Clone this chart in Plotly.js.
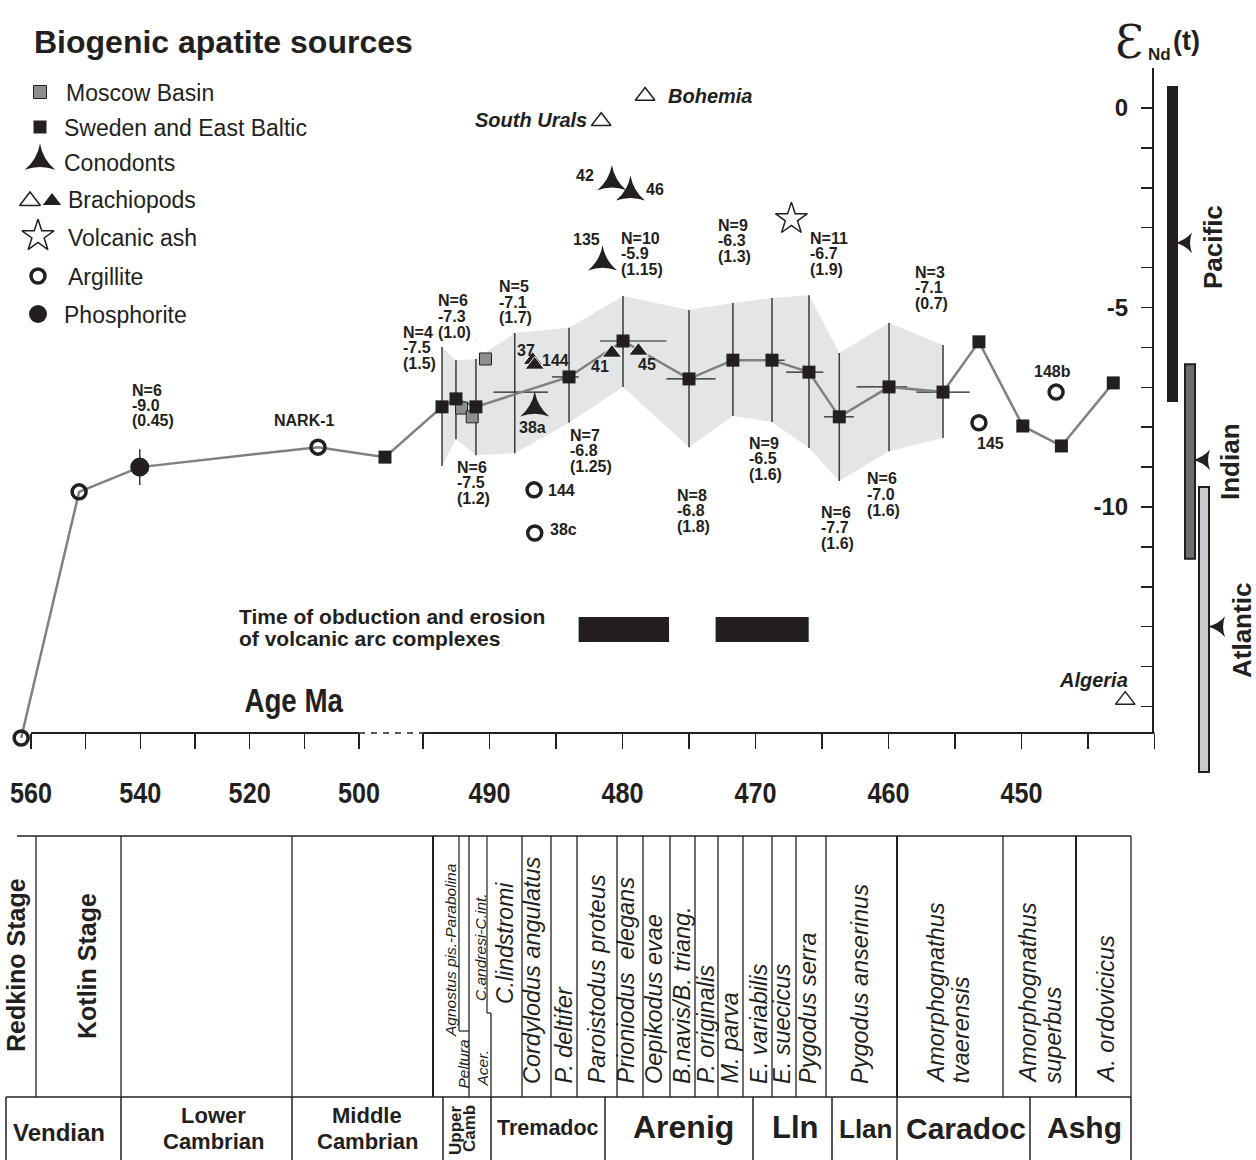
<!DOCTYPE html>
<html><head><meta charset="utf-8">
<script src="https://cdn.plot.ly/plotly-3.0.1.min.js"></script>
<style>html,body{margin:0;padding:0;background:#fff}#chart{width:1256px;height:1160px}</style>
</head><body><div id="chart"></div>
<script>
// ================= DATA =================
// Sweden and East Baltic (black squares)
const swedenAge = [497.97, 493.57, 492.52, 491.02, 484.02, 479.96, 475.0, 471.7, 468.76, 465.98, 463.7, 459.96, 455.9, 453.2, 449.9, 447.0, 443.1];
const swedenEps = [-8.75, -7.49, -7.29, -7.49, -6.74, -5.84, -6.79, -6.32, -6.32, -6.62, -7.74, -6.99, -7.12, -5.86, -7.97, -8.47, -6.89];
// Moscow Basin (grey squares)
const moscowAge = [490.3, 492.1, 491.3];
const moscowEps = [-6.29, -7.52, -7.74];
// Conodonts
const conoAge = [480.8, 479.4, 481.5, 486.6];
const conoEps = [-1.85, -2.11, -3.86, -7.52];
const conoLabel = ['42', '46', '135', '38a'];
// Brachiopods, filled
const brachAge = [486.75, 486.6, 480.8, 478.8];
const brachEps = [-6.32, -6.44, -6.14, -6.09];
const brachLabel = ['37', '144', '41', '45'];
// Brachiopods, open
const brachOpenAge = [481.6, 478.3, 442.2];
const brachOpenEps = [-0.33, 0.30, -14.84];
const brachOpenName = ['South Urals', 'Bohemia', 'Algeria'];
// Volcanic ash
const ashAge = [467.3];
const ashEps = [-2.78];
// Argillite
const argAge = [561.8, 551.2, 507.5, 486.65, 486.6, 453.2, 447.4];
const argEps = [-15.79, -9.62, -8.50, -9.57, -10.65, -7.89, -7.12];
const argLabel = ['', '', 'NARK-1', '144', '38c', '145', '148b'];
// Phosphorite
const phosAge = [540.1];
const phosEps = [-9.0];
const phosHi = [-8.55];
const phosLo = [-9.45];
const phosN = ['6'], phosMean = ['-9.0'], phosSD = ['0.45'];
// Group statistics (Sweden & East Baltic)
const groupAge = [493.57, 492.52, 491.02, 488.1, 484.02, 479.96, 475.0, 471.7, 468.76, 465.98, 463.7, 459.96, 455.9];
const groupEps = [-7.49, -7.29, -7.49, -7.12, -6.74, -5.84, -6.79, -6.32, -6.32, -6.62, -7.74, -6.99, -7.12];
const groupHi = [-5.99, -6.32, -6.29, -5.64, -5.51, -4.71, -5.06, -4.89, -4.76, -4.69, -6.14, -5.39, -5.94];
const groupLo = [-8.97, -8.30, -8.70, -8.65, -7.89, -6.99, -8.50, -7.72, -7.87, -8.52, -9.35, -8.60, -8.27];
const groupAgeOld = [null, null, null, 489.7, 485.3, 481.7, 476.7, null, 469.9, 467.7, 464.85, 462.4, 457.9];
const groupAgeYoung = [null, null, null, 485.6, 483.3, 476.7, 473.0, null, 467.8, 464.9, 462.6, 458.6, 453.9];
const groupN = ['4', '6', '6', '5', '7', '10', '8', '9', '9', '11', '6', '6', '3'];
const groupMean = ['-7.5', '-7.3', '-7.5', '-7.1', '-6.8', '-5.9', '-6.8', '-6.3', '-6.5', '-6.7', '-7.7', '-7.0', '-7.1'];
const groupSD = ['1.5', '1.0', '1.2', '1.7', '1.25', '1.15', '1.8', '1.3', '1.6', '1.9', '1.6', '1.6', '0.7'];
// Modern oceans
const oceanName = ['Pacific', 'Indian', 'Atlantic'];
const oceanTop = [0.55, -6.42, -9.50];
const oceanBottom = [-7.37, -11.30, -16.64];
const oceanMean = [-3.38, -8.82, -13.0];
const oceanColor = ['#231f20', '#6d6e71', '#c8c9cc'];
// Obduction intervals (Ma)
const obdOld = [483.3, 473.0];
const obdYoung = [476.5, 466.0];
// Axis ticks
const xTickAges = [560, 550, 540, 530, 520, 510, 500, 495, 490, 485, 480, 475, 470, 465, 460, 455, 450, 445, 440];
const xLabelAges = [560, 540, 520, 500, 490, 480, 470, 460, 450];
const yTickVals = [-15, -14, -13, -12, -11, -10, -9, -8, -7, -6, -5, -4, -3, -2, -1, 0];
const yLabelVals = [0, -5, -10];
// Stratigraphic table text
const stageTop = [['Redkino Stage', true], ['Kotlin Stage', true], ['Agnostus pis.-Parabolina', false], ['Peltura', false], ['C.andresi-C.int.', false], ['Acer.', false],
  ['C.lindstromi', false], ['Cordylodus angulatus', false], ['P. deltifer', false], ['Paroistodus proteus', false], ['Prioniodus  elegans', false], ['Oepikodus evae', false],
  ['B.navis/B. triang.', false], ['P. originalis', false], ['M. parva', false], ['E. variabilis', false], ['E. suecicus', false], ['Pygodus serra', false],
  ['Pygodus anserinus', false], ['Amorphognathus', false], ['tvaerensis', false], ['Amorphognathus', false], ['superbus', false], ['A. ordovicicus', false]];
const seriesNames = ['Vendian', 'Lower', 'Cambrian', 'Middle', 'Cambrian', 'Upper', 'Camb', 'Tremadoc', 'Arenig', 'Lln', 'Llan', 'Caradoc', 'Ashg'];

// ================= LAYOUT HELPERS =================
const W = 1256, H = 1160;
const INK = '#231f20';
const FONT = 'Liberation Sans, Arial, Helvetica, sans-serif';
const Y0PX = 108, UNIT = 39.9;                 // eps=0 at 108 px, 39.9 px per unit
const epsAt = y => -(y - Y0PX) / UNIT;
const YTOP = 40, YBOT = 800;
function pos(age) {                           // broken time axis
  if (age >= 500) return 359 - (age - 500) * 5.467;
  if (age >= 495) return 359 + (500 - age) * 12.8;
  return 423 + (495 - age) * 13.3;
}
const px = x => x / W, py = y => 1 - y / H;
function txt(x, y, text, size, o) {
  return Object.assign({ xref: 'paper', yref: 'paper', x: px(x), y: py(y), text: text, showarrow: false,
    font: { family: FONT, size: size, color: INK }, xanchor: 'center', yanchor: 'middle', borderpad: 0 }, o || {});
}
function seg(x0, y0, x1, y1, w, o) {
  return Object.assign({ type: 'line', xref: 'paper', yref: 'paper', x0: px(x0), y0: py(y0), x1: px(x1), y1: py(y1),
    line: { color: INK, width: w || 1.3 } }, o || {});
}

// ================= TRACES =================
const traces = [];
const P = a => a.map(pos);
// band
traces.push({ x: P(groupAge).concat(P(groupAge).reverse()), y: groupHi.concat(groupLo.slice().reverse()),
  mode: 'lines', fill: 'toself', fillcolor: '#e4e5e7', line: { width: 0 }, hoverinfo: 'skip' });
// vertical error bars
let vx = [], vy = [];
groupAge.forEach((a, i) => { vx.push(pos(a), pos(a), null); vy.push(groupHi[i], groupLo[i], null); });
phosAge.forEach((a, i) => { vx.push(pos(a), pos(a), null); vy.push(phosHi[i], phosLo[i], null); });
traces.push({ x: vx, y: vy, mode: 'lines', line: { color: '#3a3a3a', width: 1.5 }, hoverinfo: 'skip' });
// horizontal error bars
let hx = [], hy = [];
groupAge.forEach((a, i) => { if (groupAgeOld[i] !== null) { hx.push(pos(groupAgeOld[i]), pos(groupAgeYoung[i]), null); hy.push(groupEps[i], groupEps[i], null); } });
traces.push({ x: hx, y: hy, mode: 'lines', line: { color: INK, width: 1.2 }, hoverinfo: 'skip' });
// trend line
let trend = [];
argAge.forEach((a, i) => { if (a > 500) trend.push([a, argEps[i]]); });
phosAge.forEach((a, i) => trend.push([a, phosEps[i]]));
swedenAge.forEach((a, i) => trend.push([a, swedenEps[i]]));
trend.sort((p, q) => q[0] - p[0]);
traces.push({ x: trend.map(t => pos(t[0])), y: trend.map(t => t[1]), mode: 'lines', line: { color: '#808080', width: 2.5 }, hoverinfo: 'skip' });
// markers
traces.push({ x: P(moscowAge), y: moscowEps, mode: 'markers', marker: { symbol: 'square', size: 12, color: '#8f8f8f', line: { color: INK, width: 1 } } });
traces.push({ x: P(swedenAge), y: swedenEps, mode: 'markers', marker: { symbol: 'square', size: 13, color: INK, line: { width: 0 } } });
traces.push({ x: P(brachAge), y: brachEps, mode: 'markers', marker: { symbol: 'triangle-up', size: 17, color: INK, line: { color: '#ffffff', width: 1 } } });
traces.push({ x: P(brachOpenAge), y: brachOpenEps, mode: 'markers', marker: { symbol: 'triangle-up-open', size: 17, color: INK, line: { color: INK, width: 1.5 } } });
traces.push({ x: P(conoAge), y: conoEps, mode: 'markers', marker: { symbol: 'star-triangle-up', size: 21, color: INK, line: { width: 0 } } });
traces.push({ x: P(ashAge), y: ashEps, mode: 'markers', marker: { symbol: 'star-open', size: 24, color: INK, line: { color: INK, width: 1.5 } } });
traces.push({ x: P(argAge), y: argEps, mode: 'markers', marker: { symbol: 'circle-open', size: 14, color: INK, line: { color: INK, width: 3.5 } }, cliponaxis: false });
traces.push({ x: P(phosAge), y: phosEps, mode: 'markers', marker: { symbol: 'circle', size: 19, color: INK } });
// ocean mean arrows (concave arrowheads pointing left)
const oceanArrowX = [1186, 1204, 1219];
traces.push({ x: oceanArrowX, y: oceanMean, mode: 'markers', marker: { symbol: 'star-triangle-up', angle: -90, size: 15, color: INK, line: { width: 0 } } });
// legend glyphs (pixel overlay axes)
const leg = [
  { x: 40, y: 92, s: 'square', z: 13, c: '#8f8f8f', lw: 1 },
  { x: 40, y: 127, s: 'square', z: 13, c: INK, lw: 0 },
  { x: 40, y: 161, s: 'star-triangle-up', z: 22, c: INK, lw: 0 },
  { x: 30, y: 201, s: 'triangle-up-open', z: 18, c: INK, lw: 1.5 },
  { x: 52, y: 201, s: 'triangle-up', z: 16, c: INK, lw: 0 },
  { x: 38, y: 236, s: 'star-open', z: 24, c: INK, lw: 1.5 },
  { x: 38, y: 276, s: 'circle-open', z: 14, c: INK, lw: 3.5 },
  { x: 38, y: 314, s: 'circle', z: 18, c: INK, lw: 0 }];
leg.forEach(g => traces.push({ x: [g.x], y: [g.y], xaxis: 'x2', yaxis: 'y2', mode: 'markers',
  marker: { symbol: g.s, size: g.z, color: g.c, line: { color: INK, width: g.lw } } }));
traces.forEach(t => { t.showlegend = false; if (!t.hoverinfo) t.hoverinfo = 'skip'; });

// ================= ANNOTATIONS =================
const ann = [];
ann.push(txt(33, 42, '<b>Biogenic apatite sources</b>', 32, { xanchor: 'left' }));
const legText = [['Moscow Basin', 65, 93], ['Sweden and East Baltic', 63, 128], ['Conodonts', 63, 163], ['Brachiopods', 67, 200],
  ['Volcanic ash', 67, 238], ['Argillite', 67, 277], ['Phosphorite', 63, 315]];
legText.forEach(l => ann.push(txt(l[1], l[2], l[0], 23, { xanchor: 'left' })));
// εNd(t)
ann.push(txt(1129, 42, 'Ɛ', 46, { font: { family: 'DejaVu Serif, serif', size: 46, color: INK } }));
ann.push(txt(1159, 54, '<b>Nd</b>', 17));
ann.push(txt(1186, 41, '<b>(t)</b>', 27));
// group labels
const groupLabelPos = [[402, 332], [437, 301], [456, 467], [498, 287], [569, 435], [620, 238], [676, 495], [717, 225], [748, 443], [809, 238], [820, 512], [866, 479], [914, 272]];
const LS = 15.5;
function stack(x, y, lines) { lines.forEach((s, k) => ann.push(txt(x, y + k * LS, '<b>' + s + '</b>', 16, { xanchor: 'left' }))); }
groupN.forEach((n, i) => stack(groupLabelPos[i][0], groupLabelPos[i][1], ['N=' + n, groupMean[i], '(' + groupSD[i] + ')']));
stack(131, 390, ['N=' + phosN[0], phosMean[0], '(' + phosSD[0] + ')']);
// point labels
const conoLabelPos = [[585, 175], [655, 190], [586, 239], [532, 427]];
conoLabel.forEach((l, i) => ann.push(txt(conoLabelPos[i][0], conoLabelPos[i][1], '<b>' + l + '</b>', 16)));
const brachLabelPos = [[526, 350], [555, 361], [600, 366], [647, 364]];
brachLabel.forEach((l, i) => ann.push(txt(brachLabelPos[i][0], brachLabelPos[i][1], '<b>' + l + '</b>', 16)));
const argLabelPos = [null, null, [304, 421], [561, 490], [563, 529], [990, 443], [1052, 372]];
argLabel.forEach((l, i) => { if (l) ann.push(txt(argLabelPos[i][0], argLabelPos[i][1], '<b>' + l + '</b>', 16)); });
ann.push(txt(588, 120, '<b><i>' + brachOpenName[0] + '</i></b>', 20, { xanchor: 'right' }));
ann.push(txt(667, 96, '<b><i>' + brachOpenName[1] + '</i></b>', 20, { xanchor: 'left' }));
ann.push(txt(1093, 680, '<b><i>' + brachOpenName[2] + '</i></b>', 20));
// obduction text
ann.push(txt(238, 616, '<b>Time of obduction and erosion</b>', 21, { xanchor: 'left' }));
ann.push(txt(238, 638, '<b>of volcanic arc complexes</b>', 21, { xanchor: 'left' }));
// Age Ma
ann.push(txt(294, 700, '<b>Age Ma</b>', 33));
// ocean names
const oceanLabelPos = [[1213, 247], [1230, 462], [1242, 631]];
oceanName.forEach((o, i) => ann.push(txt(oceanLabelPos[i][0], oceanLabelPos[i][1], '<b>' + o + '</b>', 26, { textangle: -90 })));
// table: top row (rotated)
const stageTopPos = [[16, 1053, 25], [87, 1040, 25], [450, 1038, 15.5], [463, 1090, 15.5], [480, 1002, 15.5], [482, 1088, 15.5],
  [505, 1005, 23], [532, 1085, 23.5], [563, 1085, 23.5], [596, 1085, 23.5], [625, 1085, 23.5], [654, 1085, 23.5],
  [682, 1085, 23.5], [705, 1085, 23.5], [729, 1085, 23.5], [759, 1085, 23.5], [782, 1085, 23.5], [808, 1085, 23.5],
  [860, 1085, 23.5], [935, 1085, 23.5], [960, 1085, 23.5], [1027, 1085, 23.5], [1052, 1085, 23.5], [1105, 1085, 23.5]];
stageTop.forEach((s, i) => {
  const p = stageTopPos[i];
  ann.push(txt(p[0], p[1], s[1] ? '<b>' + s[0] + '</b>' : '<i>' + s[0] + '</i>', p[2], { textangle: -90, yanchor: 'bottom' }));
});
// table: bottom row
const seriesPos = [[59, 1132, 24, 0], [213, 1115, 22, 0], [213, 1141, 22, 0], [367, 1115, 22, 0], [367, 1141, 22, 0],
  [455, 1130, 17, -90], [469, 1129, 17, -90], [548, 1128, 21.5, 0], [683, 1127, 32, 0], [795, 1127, 31, 0],
  [865, 1129, 26, 0], [966, 1128, 30, 0], [1084, 1127, 30, 0]];
seriesNames.forEach((s, i) => { const p = seriesPos[i]; ann.push(txt(p[0], p[1], '<b>' + s + '</b>', p[2], { textangle: p[3] })); });

// ================= SHAPES =================
const shapes = [];
const AXY = 733;
// x-axis line with break
shapes.push({ type: 'line', xref: 'x', yref: 'paper', x0: pos(560), x1: pos(500), y0: py(AXY), y1: py(AXY), line: { color: INK, width: 2 } });
shapes.push({ type: 'line', xref: 'x', yref: 'paper', x0: pos(500), x1: pos(495), y0: py(AXY), y1: py(AXY), line: { color: INK, width: 1.5, dash: '6px,6px' } });
shapes.push({ type: 'line', xref: 'x', yref: 'paper', x0: pos(495), x1: pos(440), y0: py(AXY), y1: py(AXY), line: { color: INK, width: 2 } });
// y-axis line
shapes.push(seg(1153, 68, 1153, AXY, 2));
// ocean bars
oceanName.forEach((o, i) => {
  const xs = [[1167, 1178], [1185, 1195], [1199, 1209]][i];
  shapes.push({ type: 'rect', xref: 'paper', yref: 'y', x0: px(xs[0]), x1: px(xs[1]), y0: oceanBottom[i], y1: oceanTop[i],
    fillcolor: oceanColor[i], line: { color: INK, width: i === 0 ? 0 : 2 } });
});
// obduction bars
obdOld.forEach((a, i) => shapes.push({ type: 'rect', xref: 'x', yref: 'paper', x0: pos(a), x1: pos(obdYoung[i]), y0: py(642), y1: py(617),
  fillcolor: INK, line: { width: 0 } }));
// table grid
shapes.push(seg(17, 836, 1131, 836, 1.5));
shapes.push(seg(6, 1097, 1131, 1097, 1.5));
[36, 121, 292, 469, 522, 551, 577, 617, 643, 670, 695, 718, 743, 772, 796, 826, 1003, 1131].forEach(x => shapes.push(seg(x, 836, x, 1097, 1.3)));
[433, 897, 1076].forEach(x => shapes.push(seg(x, 836, x, 1097, 2)));
shapes.push(seg(459, 836, 459, 1031, 1.2)); shapes.push(seg(459, 1031, 469, 1031, 1.2));
shapes.push(seg(487, 836, 487, 1013, 1.2)); shapes.push(seg(487, 1013, 491, 1013, 1.2)); shapes.push(seg(491, 1013, 491, 1097, 1.3));
[6, 121, 292, 443, 491, 605, 753, 832, 897, 1030, 1131].forEach(x => shapes.push(seg(x, 1097, x, H, 1.5)));

// ================= LAYOUT =================
const layout = {
  width: W, height: H, margin: { l: 0, r: 0, t: 0, b: 0, pad: 0 },
  paper_bgcolor: '#ffffff', plot_bgcolor: 'rgba(0,0,0,0)', showlegend: false,
  xaxis: { domain: [0, 1], range: [0, W], anchor: 'free', position: py(AXY), showline: false, showgrid: false, zeroline: false,
    tickmode: 'array', tickvals: xTickAges.map(pos), ticktext: xTickAges.map(a => xLabelAges.indexOf(a) >= 0 ? String(a) : ''),
    ticks: 'outside', ticklen: 15, tickwidth: 1.5, tickcolor: INK, ticklabelstandoff: 18,
    tickfont: { family: FONT, size: 30, color: INK, weight: 'bold' } },
  yaxis: { domain: [1 - YBOT / H, 1 - YTOP / H], range: [epsAt(YBOT), epsAt(YTOP)], anchor: 'free', position: 1153 / W, side: 'left',
    showline: false, showgrid: false, zeroline: false, tickmode: 'array', tickvals: yTickVals,
    ticktext: yTickVals.map(v => yLabelVals.indexOf(v) >= 0 ? String(v) : ''),
    ticks: 'outside', ticklen: 12, tickwidth: 1.5, tickcolor: INK, ticklabelstandoff: 8,
    tickfont: { family: FONT, size: 24, color: INK, weight: 'bold' } },
  xaxis2: { domain: [0, 1], range: [0, W], anchor: 'y2', visible: false, fixedrange: true },
  yaxis2: { domain: [0, 1], range: [H, 0], anchor: 'x2', visible: false, fixedrange: true },
  annotations: ann, shapes: shapes
};
// condense a text element horizontally (the reference uses a condensed bold face)
function condense(t, f) {
  const w = t.getComputedTextLength();
  if (w > 0) { t.setAttribute('textLength', (w * f).toFixed(1)); t.setAttribute('lengthAdjust', 'spacingAndGlyphs'); }
}
Plotly.newPlot('chart', traces, layout, { staticPlot: true, displayModeBar: false }).then(gd => {
  gd.querySelectorAll('.xtick text').forEach(t => condense(t, 0.84));
  gd.querySelectorAll('.annotation-text').forEach(t => { if (t.textContent === 'Age Ma') condense(t, 0.84); });
});
</script>
</body></html>
